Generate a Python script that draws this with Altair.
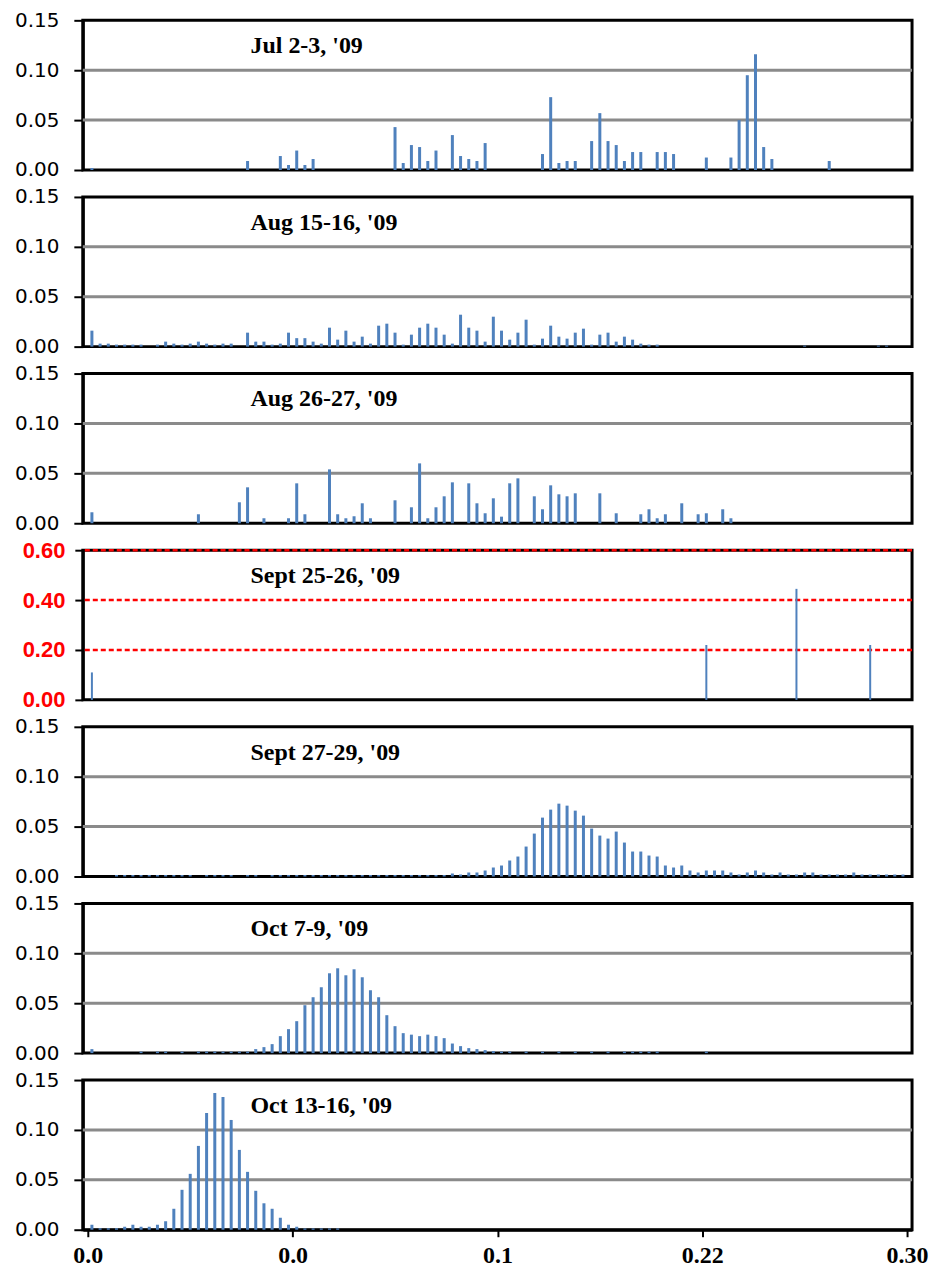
import altair as alt
import pandas as pd

N_BINS = 100
BAR_COLOR = "#4F81BD"

x_tick_positions = [0, 25, 50, 75, 100]
x_tick_labels = ["0.0", "0.0", "0.1", "0.22", "0.30"]

titles = ["Jul 2-3, '09", "Aug 15-16, '09", "Aug 26-27, '09", "Sept 25-26, '09",
          "Sept 27-29, '09", "Oct 7-9, '09", "Oct 13-16, '09"]

# ---- Jul 2-3
jul_bins = [0, 19, 23, 24, 25, 26, 27, 37, 38, 39, 40, 41, 42, 44, 45, 46, 47, 48,
            55, 56, 57, 58, 59, 61, 62, 63, 64, 65, 66, 67, 69, 70, 71, 75, 78, 79,
            80, 81, 82, 83, 90]
jul_vals = [0.002, 0.009, 0.014, 0.005, 0.0195, 0.005, 0.011, 0.043, 0.007, 0.025,
            0.023, 0.009, 0.0195, 0.035, 0.014, 0.011, 0.009, 0.027, 0.016, 0.073,
            0.007, 0.009, 0.009, 0.029, 0.057, 0.029, 0.025, 0.009, 0.018, 0.018,
            0.018, 0.018, 0.016, 0.0125, 0.0125, 0.05, 0.095, 0.116, 0.023, 0.011,
            0.009]

# ---- Aug 15-16
aug15_bins = [0, 1, 2, 3, 4, 5, 6, 8, 9, 10, 11, 12, 13, 14, 15, 16, 17,
              19, 20, 21, 22, 23, 24, 25, 26, 27, 28, 29, 30, 31, 32, 33, 34, 35,
              36, 37, 38, 39, 40, 41, 42, 43, 44, 45, 46, 47, 48, 49, 50, 51, 52,
              53, 54, 55, 56, 57, 58, 59, 60, 61, 62, 63, 64, 65, 66, 67, 68, 69,
              87, 96, 97]
aug15_vals = [0.016, 0.003, 0.003, 0.002, 0.002, 0.002, 0.002,
              0.002, 0.005, 0.003, 0.002, 0.003, 0.005, 0.003, 0.002, 0.003, 0.003,
              0.014, 0.005, 0.005, 0.002, 0.003, 0.014, 0.0085, 0.0085, 0.005, 0.003,
              0.019, 0.007, 0.016, 0.005, 0.010, 0.003, 0.021, 0.023, 0.014, 0.002,
              0.012, 0.019, 0.023, 0.019, 0.012, 0.003, 0.032, 0.019, 0.016, 0.005,
              0.030, 0.016, 0.007, 0.014, 0.027, 0.002, 0.008, 0.021, 0.010, 0.008,
              0.014, 0.018, 0.002, 0.012, 0.014, 0.005, 0.010, 0.007, 0.003, 0.002,
              0.002, 0.001, 0.001, 0.001]

# ---- Aug 26-27
aug26_bins = [0, 13, 18, 19, 21, 24, 25, 26, 29, 30, 31, 32, 33, 34, 37, 39, 40, 41,
              42, 43, 44, 46, 47, 48, 49, 50, 51, 52, 54, 55, 56, 57, 58, 59, 62, 64,
              67, 68, 69, 70, 72, 74, 75, 77, 78]
aug26_vals = [0.011, 0.009, 0.021, 0.036, 0.005, 0.005, 0.040, 0.009, 0.054, 0.009,
              0.005, 0.007, 0.020, 0.005, 0.023, 0.016, 0.060, 0.005, 0.016, 0.027,
              0.041, 0.040, 0.020, 0.010, 0.025, 0.0066, 0.040, 0.045, 0.027, 0.014,
              0.038, 0.029, 0.027, 0.030, 0.030, 0.010, 0.009, 0.014, 0.005, 0.009,
              0.020, 0.009, 0.010, 0.014, 0.005]

# ---- Sept 25-26
sep25_bins = [0, 75, 86, 95]
sep25_vals = [0.11, 0.22, 0.445, 0.22]

# ---- Sept 27-29
sep27_bins = [3, 4, 5, 6, 7, 8, 9, 10, 11, 12, 14, 15, 16, 17, 19, 20,
              22, 23, 24, 25, 26, 27, 28, 29, 30, 31, 32, 33, 34, 35, 36, 37, 38, 39,
              40, 41, 42, 43, 44, 45,
              46, 47, 48, 49, 50, 51, 52, 53, 54, 55, 56, 57, 58, 59, 60, 61, 62, 63,
              64, 65, 66, 67, 68, 69, 70, 71, 72, 73, 74, 75, 76, 77, 78, 79, 80, 81,
              82, 83, 84, 85, 86, 87, 88, 89, 90, 91, 92, 93, 94, 95, 96, 97, 98, 99]
sep27_vals = [0.0015, 0.0015, 0.0015, 0.0015, 0.0015, 0.0015, 0.0015, 0.0015, 0.0015,
              0.0015, 0.0015, 0.0015, 0.0015, 0.0015, 0.0015, 0.0015,
              0.0015, 0.0015, 0.0015, 0.0015, 0.0015, 0.0015, 0.0015, 0.0015, 0.0015,
              0.0015, 0.0015, 0.0015, 0.0015, 0.0015, 0.0015, 0.0015, 0.0015, 0.0015,
              0.0015, 0.0015, 0.0015, 0.0015, 0.003, 0.002,
              0.004, 0.004, 0.006, 0.009, 0.011, 0.016, 0.020, 0.030, 0.043, 0.059,
              0.067, 0.073, 0.071, 0.066, 0.061, 0.048, 0.041, 0.038, 0.045, 0.034,
              0.025, 0.025, 0.021, 0.020, 0.011, 0.009, 0.011, 0.006, 0.004, 0.006,
              0.006, 0.006, 0.004, 0.002, 0.004, 0.006, 0.004, 0.002, 0.004, 0.002,
              0.002, 0.004, 0.004, 0.002, 0.002, 0.002, 0.002, 0.004, 0.002, 0.002,
              0.002, 0.002, 0.002, 0.002]

# ---- Oct 7-9
oct7_bins = [0, 6, 8, 9, 11, 13, 14, 15, 16, 17, 18, 19, 20, 21, 22, 23, 24, 25, 26,
             27, 28, 29, 30, 31, 32, 33, 34, 35, 36, 37, 38, 39, 40, 41, 42, 43, 44,
             45, 46, 47, 48, 49, 50, 51, 53, 55, 57, 59, 61, 63, 65, 66, 67, 68, 69,
             75]
oct7_vals = [0.004, 0.0015, 0.0015, 0.0015, 0.0015, 0.0015, 0.0015, 0.0015, 0.0015,
             0.0015, 0.0015, 0.0015, 0.004, 0.006, 0.009, 0.017, 0.024, 0.032, 0.048,
             0.056, 0.066, 0.080, 0.085, 0.078, 0.084, 0.076, 0.063, 0.056, 0.038,
             0.027, 0.020, 0.0185, 0.017, 0.0185, 0.017, 0.015, 0.0096, 0.007,
             0.005, 0.004, 0.003, 0.002, 0.0015, 0.0015, 0.0015, 0.0015, 0.0015,
             0.0015, 0.0015, 0.0015, 0.0015, 0.0015, 0.0015, 0.0015, 0.0015, 0.0015]

# ---- Oct 13-16
oct13_bins = list(range(0, 31))
oct13_vals = [0.005, 0.0015, 0.0015, 0.0015, 0.003, 0.005, 0.003, 0.003, 0.005,
              0.0085, 0.021, 0.040, 0.056, 0.084, 0.117, 0.137, 0.133, 0.110, 0.080,
              0.058, 0.039, 0.0265, 0.021, 0.012, 0.005, 0.003, 0.0013, 0.0013,
              0.0013, 0.0013, 0.0013]

panels_bins = [jul_bins, aug15_bins, aug26_bins, sep25_bins, sep27_bins, oct7_bins, oct13_bins]
panels_vals = [jul_vals, aug15_vals, aug26_vals, sep25_vals, sep27_vals, oct7_vals, oct13_vals]

PLOT_W = 831
PLOT_H = 150

x_label_expr = "[" + ",".join("'%s'" % s for s in x_tick_labels) + "][round(datum.value/25)]"


def make_panel(k):
    bins = panels_bins[k]
    vals = panels_vals[k]
    assert len(bins) == len(vals), (k, len(bins), len(vals))
    df = pd.DataFrame({"bin": bins, "value": vals})
    df["center"] = df["bin"] + 0.5
    special = (k == 3)
    last = (k == len(titles) - 1)

    if special:
        ymax = 0.6
        yticks = [0.0, 0.2, 0.4, 0.6]
        grid_vals = [0.2, 0.4, 0.6]
        y_axis = alt.Axis(values=yticks, format=".2f", grid=False, title=None,
                          labelColor="#FF0000", labelFont="Liberation Sans Narrow, Liberation Sans",
                          labelFontWeight="bold", labelFontSize=22, labelPadding=10,
                          domainColor="black", domainWidth=3, tickColor="black",
                          tickWidth=2, tickSize=8, labelOverlap=False)
        grid_mark = dict(color="#FF0000", strokeWidth=2.5, strokeDash=[5, 3])
        bar_size = 2
    else:
        ymax = 0.15
        yticks = [0.0, 0.05, 0.10, 0.15]
        grid_vals = [0.05, 0.10]
        y_axis = alt.Axis(values=yticks, format=".2f", grid=False, title=None,
                          labelColor="black", labelFont="DejaVu Sans",
                          labelFontSize=20, labelPadding=15,
                          domainColor="black", domainWidth=3, tickColor="black",
                          tickWidth=2, tickSize=9, labelOverlap=False)
        grid_mark = dict(color="#8A8A8A", strokeWidth=3)
        bar_size = 3

    yscale = alt.Scale(domain=[0, ymax], nice=False, zero=True)
    xscale = alt.Scale(domain=[0, N_BINS], nice=False, zero=False)

    if last:
        x_axis = alt.Axis(values=x_tick_positions, labelExpr=x_label_expr, grid=False,
                          title=None, labelFont="Liberation Serif", labelFontWeight="bold",
                          labelFontSize=24, labelColor="black", labelPadding=7,
                          labelFlush=False, domainColor="black", domainWidth=3,
                          tickColor="black", tickWidth=2, tickSize=7, labelOverlap=False)
    else:
        x_axis = None

    grid = alt.Chart(pd.DataFrame({"g": grid_vals})).mark_rule(**grid_mark).encode(
        y=alt.Y("g:Q", scale=yscale, axis=y_axis, title=None)
    )
    bars = alt.Chart(df).mark_bar(size=bar_size, color=BAR_COLOR).encode(
        x=alt.X("center:Q", scale=xscale, axis=x_axis, title=None),
        y=alt.Y("value:Q", scale=yscale, axis=y_axis, title=None),
    )
    label = alt.Chart(pd.DataFrame({"t": [titles[k]]})).mark_text(
        align="left", baseline="middle", font="Liberation Serif", fontWeight="bold",
        fontSize=24, color="black"
    ).encode(x=alt.value(168), y=alt.value(26), text="t:N")

    return alt.layer(grid, bars, label).properties(width=PLOT_W, height=PLOT_H)


chart = alt.vconcat(*[make_panel(k) for k in range(len(titles))], spacing=27, bounds="flush")
chart = chart.properties(padding={"left": 12, "top": 7, "right": 0, "bottom": 5},
                         background="white")
chart = chart.configure_view(stroke="black", strokeWidth=3)

chart.save("out.html", embed_options={"renderer": "svg", "actions": False})
